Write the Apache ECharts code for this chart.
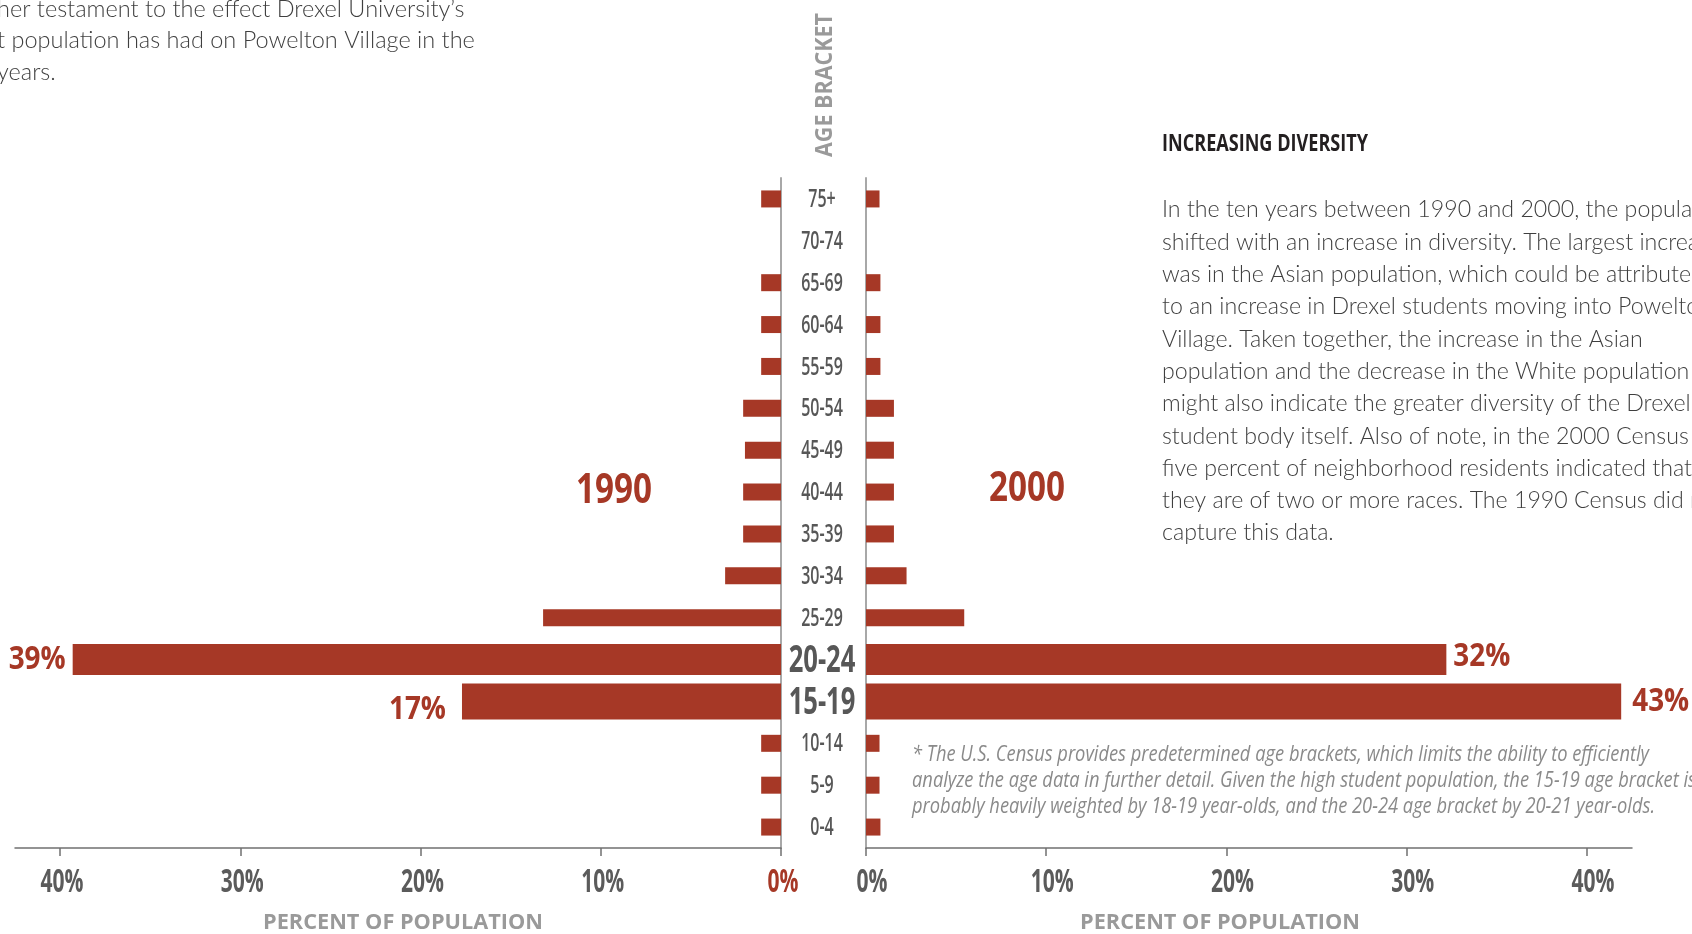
<!DOCTYPE html>
<html><head><meta charset="utf-8">
<script src="https://cdn.jsdelivr.net/npm/echarts@6/dist/echarts.min.js"></script>
<style>html,body{margin:0;padding:0;background:#fff;}#c{width:1692px;height:934px;}</style>
</head><body><div id="c"></div>
<script>
// ---- data ----
const categories = ['75+','70-74','65-69','60-64','55-59','50-54','45-49','40-44','35-39','30-34','25-29','20-24','15-19','10-14','5-9','0-4'];
const values1990 = [1.1, 0, 1.1, 1.1, 1.1, 2.1, 2.0, 2.1, 2.1, 3.1, 13.2, 39.3, 17.7, 1.1, 1.1, 1.1];
const values2000 = [0.75, 0, 0.8, 0.8, 0.8, 1.55, 1.55, 1.55, 1.55, 2.25, 5.45, 32.2, 41.9, 0.75, 0.75, 0.8];
const labels1990 = ['','','','','','','','','','','','39%','17%','','',''];
const labels2000 = ['','','','','','','','','','','','32%','43%','','',''];
const xTicks = [0, 10, 20, 30, 40];
const bigCategories = ['20-24','15-19'];

// ---- styles ----
const RED = '#a63826';
const COND = '"Open Sans","Noto Sans",sans-serif';
const barHeight = c => c === '20-24' ? 31 : (c === '15-19' ? 36 : 17);

const mctx = document.createElement('canvas').getContext('2d');
function tw(str, font) { mctx.font = font; return mctx.measureText(str).width; }
function fit(str, font, w) { return w / tw(str, font); }

const chart = echarts.init(document.getElementById('c'), null, {renderer: 'canvas'});

function makeData(vals) {
  return vals.map((v, i) => ({ value: v, symbolSize: ['100%', barHeight(categories[i])] }));
}

const axisCommon = {
  axisLine: { show: true, lineStyle: { color: '#707070', width: 1.5 } },
  axisTick: { show: true, length: 8, customValues: xTicks, lineStyle: { color: '#707070', width: 1.5 } },
  splitLine: { show: false },
  axisLabel: { show: false }
};

const option = {
  animation: false,
  backgroundColor: '#fff',
  grid: [
    { left: 15, right: 911, top: 178, bottom: 86 },
    { left: 866, right: 60, top: 178, bottom: 86 }
  ],
  xAxis: [
    Object.assign({ gridIndex: 0, type: 'value', inverse: true, min: 0, max: 42.5 }, axisCommon),
    Object.assign({ gridIndex: 1, type: 'value', min: 0, max: 42.5 }, axisCommon)
  ],
  yAxis: [
    { gridIndex: 0, type: 'category', data: categories, inverse: true, position: 'right',
      axisLine: { show: true, lineStyle: { color: '#a8a8a8', width: 2 } },
      axisTick: { show: false }, axisLabel: { show: false } },
    { gridIndex: 1, type: 'category', data: categories, inverse: true, position: 'left',
      axisLine: { show: true, lineStyle: { color: '#a8a8a8', width: 2 } },
      axisTick: { show: false }, axisLabel: { show: false } }
  ],
  series: [
    { name: '1990', type: 'pictorialBar', xAxisIndex: 0, yAxisIndex: 0, symbol: 'rect',
      symbolPosition: 'start', itemStyle: { color: RED }, data: makeData(values1990) },
    { name: '2000', type: 'pictorialBar', xAxisIndex: 1, yAxisIndex: 1, symbol: 'rect',
      symbolPosition: 'start', itemStyle: { color: RED }, data: makeData(values2000) }
  ]
};
chart.setOption(option);

// ---- text layer (positions from the chart's own scales) ----
const g = [];
function txt(text, font, fill, x, y, sx, align, extra) {
  g.push(Object.assign({ type: 'text', silent: true, x: x, y: y, scaleX: sx,
    style: { text: text, font: font, fill: fill, align: align || 'center', verticalAlign: 'middle' } }, extra || {}));
}

// category labels (centre column)
const fSmall = '600 25px ' + COND, fBig = 'bold 37px ' + COND;
const sSmall = fit('10-14', fSmall, 41.7), sBig = fit('20-24', fBig, 66.7);
const colX = chart.convertToPixel({ xAxisIndex: 1 }, 0) - 44;
categories.forEach(c => {
  const y = chart.convertToPixel({ yAxisIndex: 1 }, c);
  const big = bigCategories.includes(c);
  txt(c, big ? fBig : fSmall, '#575757', colX, y + (big ? 2 : 1), big ? sBig : sSmall);
});

// x tick labels
const fTick = 'bold 32px ' + COND;
const sTick = fit('40%', fTick, 43);
xTicks.forEach(v => {
  const xl = chart.convertToPixel({ xAxisIndex: 0 }, v);
  const xr = chart.convertToPixel({ xAxisIndex: 1 }, v);
  txt(v + '%', fTick, v === 0 ? RED : '#5b5b5b', xl + 2, 883, sTick);
  txt(v + '%', fTick, '#5b5b5b', xr + 6, 883, sTick);
});

// value labels at bar ends
const fVal = 'bold 32px ' + COND;
const sVal = fit('39%', fVal, 57);
categories.forEach((c, i) => {
  if (labels1990[i]) {
    const p = chart.convertToPixel({ gridIndex: 0 }, [values1990[i], c]);
    const far = c === '15-19';
    txt(labels1990[i], fVal, RED, p[0] - (far ? 16 : 7), p[1] + (far ? 8 : 0), sVal, 'right');
  }
  if (labels2000[i]) {
    const p = chart.convertToPixel({ gridIndex: 1 }, [values2000[i], c]);
    const far = c === '15-19';
    txt(labels2000[i], fVal, RED, p[0] + (far ? 11 : 7), p[1] + (far ? 0 : -3), sVal, 'left');
  }
});

// year titles
const fYear = 'bold 42px ' + COND;
const sYear = fit('1990', fYear, 76);
txt('1990', fYear, RED, 614, 491, sYear);
txt('2000', fYear, RED, 1027, 489, sYear);

// axis titles
const fAxT = 'bold 22px ' + COND;
const sAxT = fit('PERCENT OF POPULATION', fAxT, 280);
txt('PERCENT OF POPULATION', fAxT, '#9a9a9a', 403, 923, sAxT);
txt('PERCENT OF POPULATION', fAxT, '#9a9a9a', 1220, 923, sAxT);
const fAge = 'bold 23px ' + COND;
txt('AGE BRACKET', fAge, '#9a9a9a', 825, 85, fit('AGE BRACKET', fAge, 144), 'center', { rotation: Math.PI / 2 });

// side heading
const fHead = 'bold 23px ' + COND;
txt('INCREASING DIVERSITY', fHead, '#231f20', 1162, 144, fit('INCREASING DIVERSITY', fHead, 206), 'left');

// paragraphs
const paraRight = 'In the ten years between 1990 and 2000, the population\nshifted with an increase in diversity. The largest increase\nwas in the Asian population, which could be attributed\nto an increase in Drexel students moving into Powelton\nVillage. Taken together, the increase in the Asian\npopulation and the decrease in the White population\nmight also indicate the greater diversity of the Drexel\nstudent body itself. Also of note, in the 2000 Census\nfive percent of neighborhood residents indicated that\nthey are of two or more races. The 1990 Census did not\ncapture this data.';
const baseP = '300 100px Lato, "Open Sans", sans-serif';
const sizeR = 100 * 481 / tw('Village. Taken together, the increase in the Asian', baseP);
g.push({ type: 'text', silent: true, x: 1162, y: 210 - 16.15, style: { text: paraRight,
  font: '300 ' + sizeR.toFixed(2) + 'px Lato, "Open Sans", sans-serif', fill: '#3f3f3f',
  lineHeight: 32.3, align: 'left', verticalAlign: 'top' } });

const paraLeft = 'her testament to the effect Drexel University\u2019s\nt population has had on Powelton Village in the\nyears.';
const sizeL = 100 * 478 / tw('t population has had on Powelton Village in the', baseP);
g.push({ type: 'text', silent: true, x: -3, y: 9 - 15.75, style: { text: paraLeft,
  font: '300 ' + sizeL.toFixed(2) + 'px Lato, "Open Sans", sans-serif', fill: '#3f3f3f',
  lineHeight: 31.5, align: 'left', verticalAlign: 'top' } });

// footnote
const note = '* The U.S. Census provides predetermined age brackets, which limits the ability to efficiently\nanalyze the age data in further detail. Given the high student population, the 15-19 age bracket is\nprobably heavily weighted by 18-19 year-olds, and the 20-24 age bracket by 20-21 year-olds.';
const fNote = 'italic 21px ' + COND;
const sNote = fit('* The U.S. Census provides predetermined age brackets, which limits the ability to efficiently', fNote, 737);
g.push({ type: 'text', silent: true, x: 912, y: 755 - 13, scaleX: sNote, style: { text: note, font: fNote,
  fill: '#8a8a8a', lineHeight: 26, align: 'left', verticalAlign: 'top' } });

chart.setOption({ graphic: g });
</script></body></html>
